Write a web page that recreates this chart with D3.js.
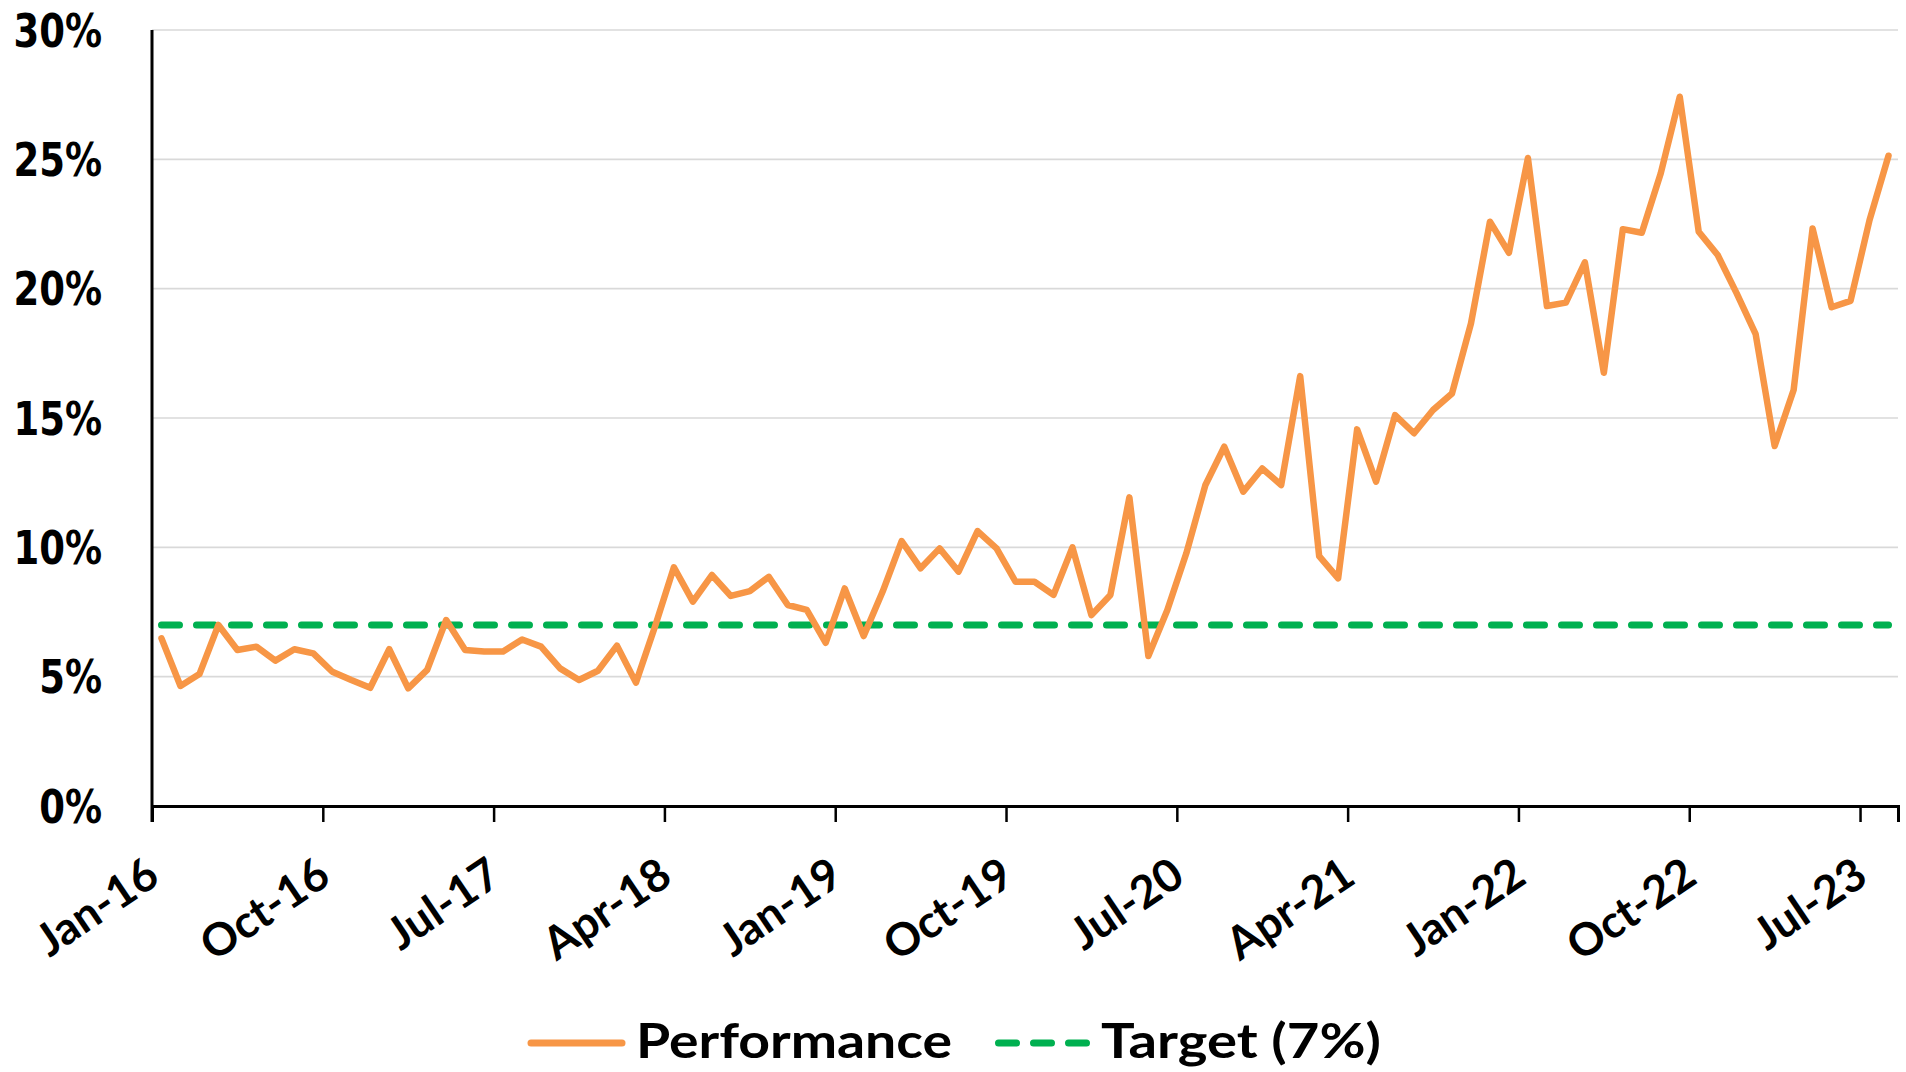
<!DOCTYPE html>
<html>
<head>
<meta charset="utf-8">
<script src="https://cdn.jsdelivr.net/npm/d3@7"></script>
<style>
  html, body { margin: 0; padding: 0; background: #fff; }
  svg { display: block; }
</style>
</head>
<body>
<svg id="chart" width="1906" height="1072"></svg>
<script>
// ---- DATA ----
const startMonth = new Date(2016, 0, 1);
const endMonth = new Date(2023, 8, 1); // exclusive
const months = d3.timeMonth.range(startMonth, endMonth); // Jan-16 .. Aug-23 (92 months)

const performance = [
  6.48, 4.64, 5.10, 7.00, 6.03, 6.16, 5.62, 6.06, 5.90, 5.19,
  4.87, 4.57, 6.06, 4.55, 5.26, 7.19, 6.03, 5.97, 5.97, 6.44,
  6.16, 5.32, 4.87, 5.23, 6.20, 4.77, 6.93, 9.23, 7.90, 8.93,
  8.12, 8.31, 8.86, 7.77, 7.58, 6.31, 8.41, 6.57, 8.29, 10.24,
  9.19, 9.96, 9.06, 10.63, 9.96, 8.67, 8.67, 8.16, 10.00, 7.38,
  8.16, 11.93, 5.80, 7.58, 9.77, 12.40, 13.89, 12.15, 13.05, 12.41,
  16.62, 9.66, 8.80, 14.56, 12.54, 15.11, 14.41, 15.31, 15.95, 18.66,
  22.59, 21.39, 25.05, 19.33, 19.46, 21.02, 16.75, 22.30, 22.16, 24.46,
  27.42, 22.20, 21.30, 19.82, 18.24, 13.92, 16.08, 22.33, 19.28, 19.53,
  22.65, 25.14
];
const targetValue = 7;
const yTickValues = [0, 5, 10, 15, 20, 25, 30];
const xTickLabels = ["Jan-16", "Oct-16", "Jul-17", "Apr-18", "Jan-19", "Oct-19",
                     "Jul-20", "Apr-21", "Jan-22", "Oct-22", "Jul-23"];
const seriesNames = ["Performance", "Target (7%)"];

// ---- LAYOUT ----
const svg = d3.select("#chart");
const plotL = 152, plotR = 1898, plotT = 30, plotB = 806;
const ORANGE = "#F79646", GREEN = "#00B050";

const x = d3.scaleLinear().domain([0, months.length]).range([plotL, plotR]);
const y = d3.scaleLinear().domain([0, 30]).range([plotB, plotT]);
const xi = i => x(i + 0.5);

// gridlines
svg.append("g")
  .selectAll("line")
  .data(yTickValues.filter(v => v > 0))
  .join("line")
  .attr("x1", plotL).attr("x2", plotR)
  .attr("y1", d => y(d)).attr("y2", d => y(d))
  .attr("stroke", "#d9d9d9").attr("stroke-width", 1.6);

// y labels
const yl = svg.append("g");
yTickValues.forEach(v => {
  yl.append("text")
    .attr("transform", `translate(102,${y(v)}) scale(1,1.25)`)
    .attr("text-anchor", "end")
    .attr("dy", "0.36em")
    .attr("font-family", "DejaVu Sans")
    .attr("font-weight", "bold")
    .attr("font-size", 37)
    .attr("fill", "#000")
    .text(v + "%");
});

// x axis with ticks
const tickIdx = xTickLabels.map((d, k) => k * 9);
const xAxis = d3.axisBottom(x).tickValues(tickIdx).tickSize(16).tickFormat("");
const gx = svg.append("g").attr("transform", `translate(0,${plotB})`).call(xAxis);
gx.select(".domain").attr("stroke", "#000").attr("stroke-width", 3);
gx.selectAll(".tick line").attr("stroke", "#000").attr("stroke-width", 2.5);

// y axis line
svg.append("line")
  .attr("x1", plotL).attr("x2", plotL).attr("y1", plotT).attr("y2", plotB + 16)
  .attr("stroke", "#000").attr("stroke-width", 3);

// x tick labels (rotated)
svg.append("g")
  .selectAll("text")
  .data(tickIdx)
  .join("text")
  .attr("transform", (d) => `translate(${x(d) + 10},882) rotate(-34)`)
  .attr("text-anchor", "end")
  .attr("font-family", "Lato")
  .attr("font-weight", "bold")
  .attr("font-size", 45)
  .attr("fill", "#000")
  .text((d, k) => xTickLabels[k]);

// target line
const targetData = months.map(() => targetValue);
svg.append("path")
  .datum(targetData)
  .attr("d", d3.line().x((d, i) => xi(i)).y(d => y(d)))
  .attr("fill", "none")
  .attr("stroke", GREEN)
  .attr("stroke-width", 7)
  .attr("stroke-linecap", "round")
  .attr("stroke-dasharray", "18 17");

// performance line
svg.append("path")
  .datum(performance)
  .attr("d", d3.line().x((d, i) => xi(i)).y(d => y(d)))
  .attr("fill", "none")
  .attr("stroke", ORANGE)
  .attr("stroke-width", 6.5)
  .attr("stroke-linejoin", "round")
  .attr("stroke-linecap", "round");

// legend
const lg = svg.append("g");
lg.append("line").attr("x1", 531).attr("x2", 622).attr("y1", 1043).attr("y2", 1043)
  .attr("stroke", ORANGE).attr("stroke-width", 7).attr("stroke-linecap", "round");
lg.append("text").attr("x", 636).attr("y", 1058)
  .attr("font-family", "Lato").attr("font-weight", "bold").attr("font-size", 47)
  .attr("textLength", 316).attr("lengthAdjust", "spacingAndGlyphs")
  .text(seriesNames[0]);
lg.append("line").attr("x1", 998.5).attr("x2", 1089).attr("y1", 1043).attr("y2", 1043)
  .attr("stroke", GREEN).attr("stroke-width", 7).attr("stroke-linecap", "round")
  .attr("stroke-dasharray", "18 17");
lg.append("text").attr("x", 1101).attr("y", 1058)
  .attr("font-family", "Lato").attr("font-weight", "bold").attr("font-size", 47)
  .attr("textLength", 280).attr("lengthAdjust", "spacingAndGlyphs")
  .text(seriesNames[1]);
</script>
</body>
</html>
